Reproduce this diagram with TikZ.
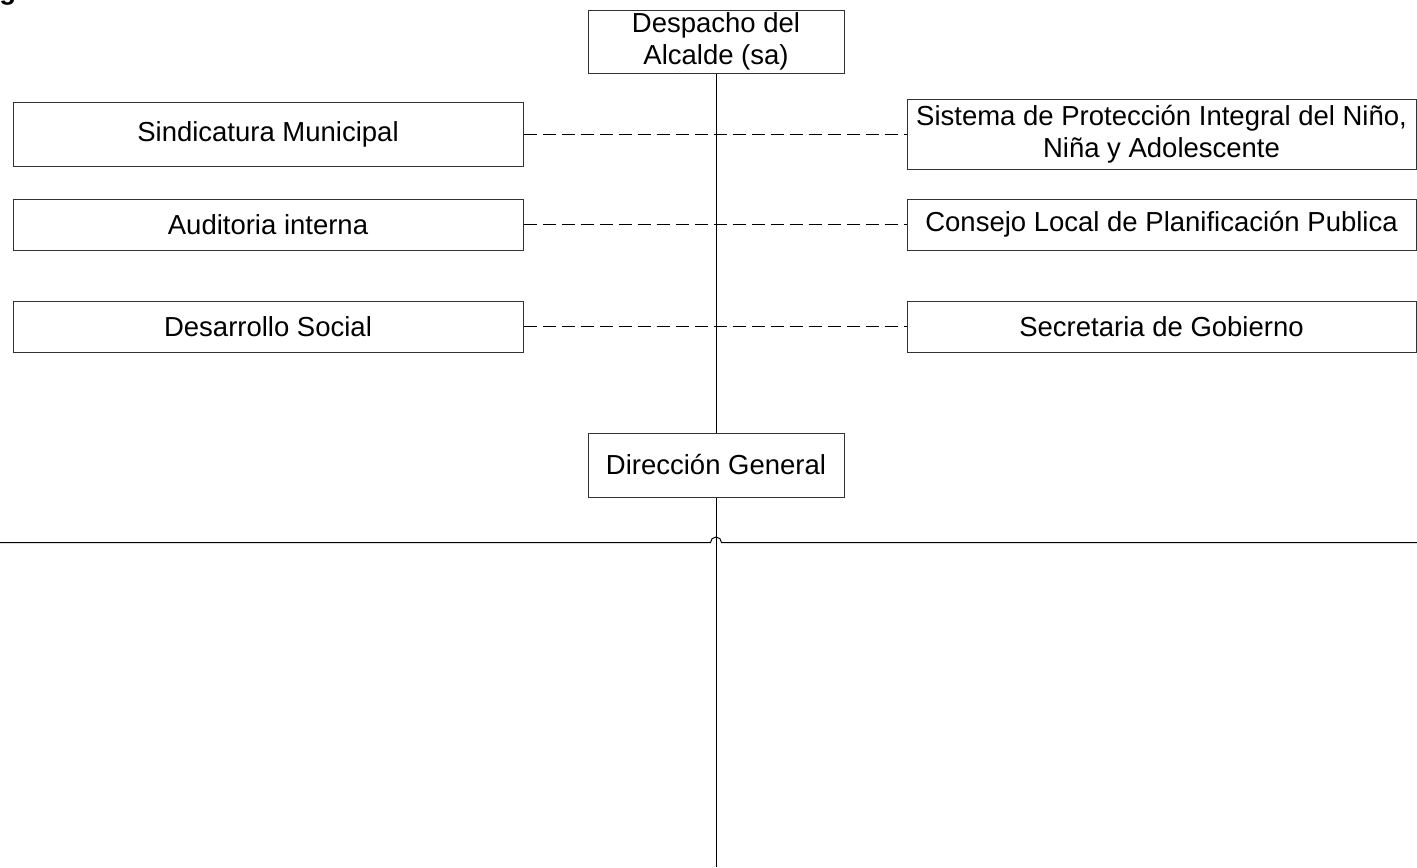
\documentclass[tikz,border=0pt]{standalone}
\usepackage{fontspec}
\setmainfont{Liberation Sans}
\begin{document}
\begin{tikzpicture}[x=0.5pt,y=-0.5pt,
    unit/.style={draw=black!80,line width=0.5pt,inner sep=0pt,align=center,
      font=\fontsize{13.75}{16}\selectfont},
    side/.style={unit,minimum width=255pt,minimum height=25.5pt},
    link/.style={line width=0.5pt,dash pattern=on 6.5pt off 3pt}]
      \useasboundingbox (0,0) rectangle (1417,867);
      \clip (0,0) rectangle (1417,867);
      \node[anchor=base west,inner sep=0pt,font=\fontsize{13.75}{16}\selectfont\bfseries] (g) at (-1,0) {g};
      \draw
        (716,41.5) node[unit,minimum width=128pt,minimum height=31.5pt] (desp){Despacho del\\Alcalde (sa)}
        (268,134.5) node[side,minimum height=32pt] (sind){Sindicatura Municipal}
        (268,224.5) node[side] (aud){Auditoria interna}
        (268,326.5) node[side] (des){Desarrollo Social}
        (1161.5,134.5) node[side,minimum width=254.5pt,minimum height=35pt] (sist){Sistema de Protección Integral del Niño,\\Niña y Adolescente}
        (1161.5,224.5) node[side,minimum width=254.5pt] (cons){Consejo Local de Planificación Publica}
        (1161.5,326.5) node[side,minimum width=254.5pt] (sec){Secretaria de Gobierno}
        (716,465) node[unit,minimum width=128pt,minimum height=32pt] (dir){Dirección General};
      \coordinate (bot) at (716,867);
      \coordinate (hl) at (0,542.5);
      \coordinate (hr) at (1417,542.5);
      \begin{scope}[line width=0.5pt]
        \draw (desp) to (dir);
        \draw (dir) to (bot);
        \draw (hl) -- (710.5,542.5) arc[start angle=180,end angle=0,radius=2.75pt] -- (hr);
      \end{scope}
      \begin{scope}[link]
        \draw (sind.east) to (sist.west);
        \draw (aud.east) to (cons.west);
        \draw (des.east) to (sec.west);
      \end{scope}
    \end{tikzpicture}
\end{document}
